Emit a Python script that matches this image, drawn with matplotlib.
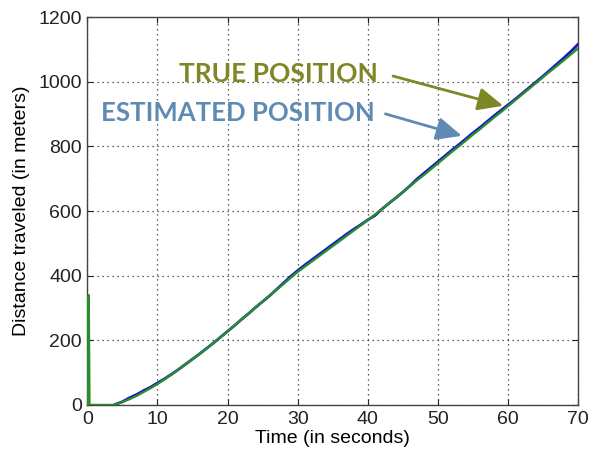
import matplotlib
matplotlib.use("Agg")
import matplotlib.pyplot as plt

# True position (green) and estimated position (blue), metres vs seconds
true_t = [0.1, 0.2, 0.3, 3.6, 4, 5, 6, 7, 8, 9, 10, 11, 12, 13, 14, 15, 16, 17, 18, 19,
          20, 21, 22, 23, 24, 25, 26, 27, 28, 29, 30, 31, 32, 33, 34, 35, 36, 37, 38, 39,
          40, 41, 42, 43, 44, 45, 46, 47, 48, 49, 50, 51, 52, 53, 54, 55, 56, 57, 58, 59,
          60, 61, 62, 63, 64, 65, 66, 67, 68, 69, 70]
true_d = [0, 340, 0, 0, 2, 9, 18, 28, 40, 52, 65, 79, 94, 110, 126, 142, 158, 175, 192, 210,
          228, 246, 265, 283, 302, 320, 338, 357, 375, 394, 412, 428, 444, 460, 476, 492, 508, 524, 540, 556,
          572, 589, 606, 624, 641, 659, 677, 695, 712, 730, 748, 766, 784, 801, 819, 837, 854, 872, 890, 907,
          925, 943, 961, 979, 997, 1015, 1033, 1050, 1068, 1086, 1104]

est_t = [4, 5, 6, 7, 8, 9, 10, 11, 12, 13, 14, 15, 16, 17, 18, 19,
         20, 21, 22, 23, 24, 25, 26, 27, 28, 29, 30, 31, 32, 33, 34, 35, 36, 37, 38, 39,
         40, 41, 42, 43, 44, 45, 46, 47, 48, 49, 50, 51, 52, 53, 54, 55, 56, 57, 58, 59,
         60, 61, 62, 63, 64, 65, 66, 67, 68, 69, 70]
est_d = [2, 10, 22, 32, 44, 55, 68, 81, 95, 110, 126, 142, 158, 175, 192, 210,
         228, 246, 265, 283, 302, 320, 338, 358, 378, 398, 416, 433, 449, 465, 481, 497, 513, 529, 544, 558,
         573, 586, 606, 624, 641, 659, 678, 699, 717, 735, 753, 771, 789, 806, 824, 842, 859, 877, 895, 912,
         929, 946, 964, 982, 1000, 1018, 1037, 1056, 1075, 1095, 1117]

x_ticks = [0, 10, 20, 30, 40, 50, 60, 70]
y_ticks = [0, 200, 400, 600, 800, 1000, 1200]

plt.rcParams['font.family'] = ['Liberation Sans', 'DejaVu Sans']

fig = plt.figure(figsize=(5.9, 4.54), dpi=100)
ax = fig.add_axes([0.148, 0.108, 0.832, 0.854])

ax.plot(est_t, est_d, color='#1414cc', lw=2.0, zorder=3)
ax.plot(true_t, true_d, color='#2a8c2a', lw=1.7, zorder=4)

ax.set_xlim(0, 70)
ax.set_ylim(0, 1200)
ax.set_xticks(x_ticks)
ax.set_yticks(y_ticks)
ax.tick_params(direction='in', length=4, width=0.8, labelsize=14, top=True, right=True,
               colors='#222222', pad=4)
ax.grid(True, linestyle=(0, (1, 3)), color='#333333', lw=0.9)
for s in ax.spines.values():
    s.set_color('#444444')
    s.set_linewidth(1.0)

ax.set_xlabel('Time (in seconds)', fontsize=14, labelpad=2)
ax.set_ylabel('Distance traveled (in meters)', fontsize=14, labelpad=6)

olive = '#7f8626'
steel = '#5f8ab4'
ax.text(27.2, 1025, 'TRUE POSITION', color=olive, fontsize=19, fontweight='bold',
        family=['Lato', 'DejaVu Sans'], ha='center', va='center', zorder=5)
ax.text(21.5, 904, 'ESTIMATED POSITION', color=steel, fontsize=18.5, fontweight='bold',
        family=['Lato', 'DejaVu Sans'], ha='center', va='center', zorder=5)

ax.annotate('', xy=(59.3, 926), xytext=(43.6, 1018),
            arrowprops=dict(arrowstyle='-|>,head_length=1.1,head_width=0.5', color=olive,
                            lw=2, mutation_scale=14, shrinkA=0, shrinkB=0), zorder=6)
ax.annotate('', xy=(53.4, 833), xytext=(42.5, 901),
            arrowprops=dict(arrowstyle='-|>,head_length=1.1,head_width=0.5', color=steel,
                            lw=2, mutation_scale=14, shrinkA=0, shrinkB=0), zorder=6)

fig.savefig('out.png', dpi=100, facecolor='white')
